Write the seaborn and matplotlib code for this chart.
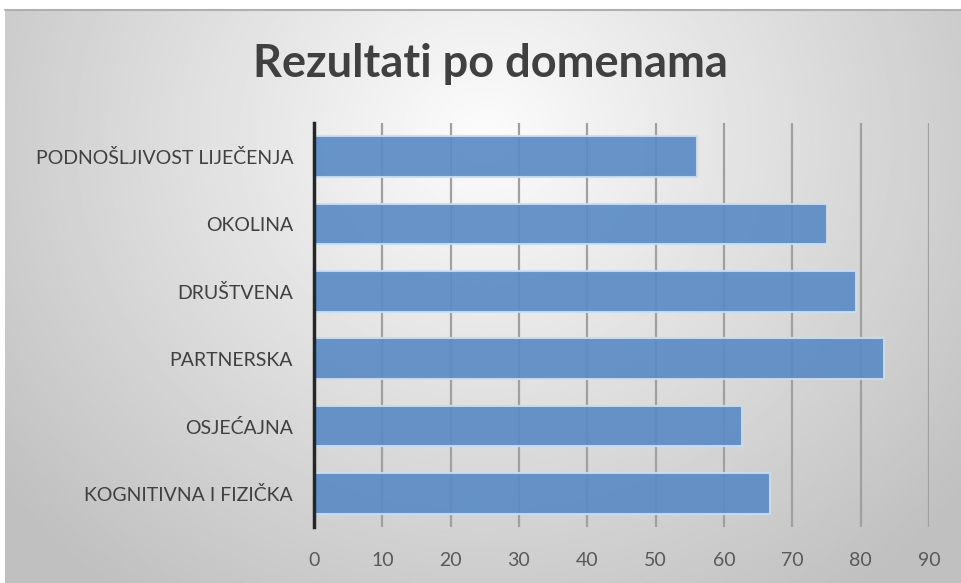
import numpy as np
import pandas as pd
import matplotlib
matplotlib.use("Agg")
import matplotlib.pyplot as plt
import seaborn as sns

# data
domene = [
    "PODNOŠLJIVOST LIJEČENJA",
    "OKOLINA",
    "DRUŠTVENA",
    "PARTNERSKA",
    "OSJEĆAJNA",
    "KOGNITIVNA I FIZIČKA",
]
rezultati = [56.0, 75.0, 79.3, 83.4, 62.7, 66.7]
x_ticks = [0, 10, 20, 30, 40, 50, 60, 70, 80, 90]

sns.set_theme(style="white")
plt.rcParams["font.family"] = ["Lato", "DejaVu Sans"]

df = pd.DataFrame({"domena": domene, "rezultat": rezultati})

fig = plt.figure(figsize=(9.61, 5.83), dpi=100)

# background (radial gray gradient, like the Excel chart style)
bg = fig.add_axes([5 / 961, 0, 1 - 5 / 961, 1 - 10 / 583], zorder=-2)
h, w = 300, 500
yy, xx = np.mgrid[0:h, 0:w]
r = np.sqrt(((xx / w - 0.5) / 0.6) ** 2 + ((yy / h - 0.22) / 0.92) ** 2)
val = np.clip(252 - 56 * r, 192, 252) / 255
bg.imshow(val, cmap="gray", vmin=0, vmax=1, aspect="auto", interpolation="bilinear")
bg.set_axis_off()
fig.add_artist(plt.Line2D([5 / 961, 1], [1 - 10 / 583, 1 - 10 / 583],
                          color="#b0b0b0", lw=1.5, transform=fig.transFigure))

ax = fig.add_axes([314 / 961, 56 / 583, (929 - 314) / 961, (527 - 123) / 583])
ax.set_facecolor("none")

for t in x_ticks[1:]:
    ax.axvline(t, color="#a0a0a0", lw=1.6, zorder=0)

sns.barplot(
    data=df, x="rezultat", y="domena", orient="h", ax=ax,
    color="#5b8bc5", width=0.6, edgecolor="#c9ddf3", linewidth=1.5,
    alpha=0.92, saturation=1, zorder=2,
)

ax.set_xlim(0, 90)
ax.set_xticks(x_ticks)
ax.set_xlabel("")
ax.set_ylabel("")
for s in ["top", "right", "bottom"]:
    ax.spines[s].set_visible(False)
ax.spines["left"].set_color("#262626")
ax.spines["left"].set_linewidth(2.5)
ax.spines["left"].set_zorder(3)
ax.tick_params(axis="x", length=0, pad=18, labelsize=14, labelcolor="#595959")
ax.tick_params(axis="y", length=0, pad=15, labelsize=14, labelcolor="#404040")

fig.text(490 / 961, 1 - 64 / 583, "Rezultati po domenama", ha="center", va="center",
         fontsize=32.5, fontweight="bold", color="#404040")

fig.savefig("out.png", dpi=100)
